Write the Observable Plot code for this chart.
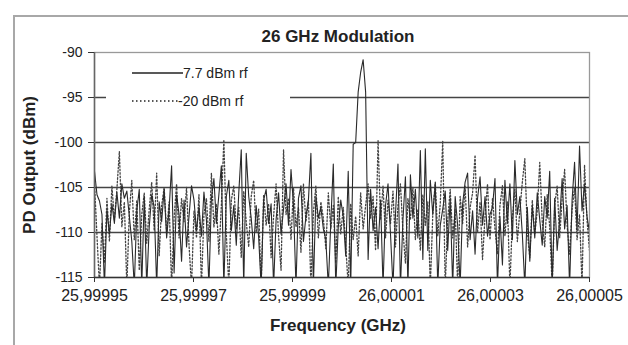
<!DOCTYPE html>
<html><head><meta charset="utf-8">
<script src="https://cdn.jsdelivr.net/npm/d3@7"></script>
<script src="https://cdn.jsdelivr.net/npm/@observablehq/plot@0.6"></script>
<style>
body{margin:0;background:#fff;font-family:"Liberation Sans",Arial,sans-serif;}
#wrap{position:relative;width:628px;height:345px;overflow:hidden;background:#fff;}
#border{position:absolute;left:13px;top:15px;width:700px;height:400px;border-left:2px solid #a8a8a8;border-top:2px solid #a8a8a8;}
#chart{position:absolute;left:0;top:0;}
.t{position:absolute;color:#222;font-weight:bold;font-size:17px;white-space:nowrap;}
#title{left:0;width:676px;top:27px;text-align:center;}
#xlabel{left:0;width:676px;top:316px;text-align:center;}
#ylabel{left:30px;top:165px;transform:translate(-50%,-50%) rotate(-90deg);}
#legend{position:absolute;left:106px;top:62px;width:184px;height:50px;background:#fff;}
.lg{position:absolute;left:26px;font-size:14px;color:#222;white-space:nowrap;display:flex;align-items:center;}
g[aria-label="x-axis tick label"] text{font-size:16px;}
</style></head>
<body><div id="wrap">
<div id="border"></div>
<div id="chart"></div>
<div id="title" class="t">26 GHz Modulation</div>
<div id="xlabel" class="t">Frequency (GHz)</div>
<div id="ylabel" class="t">PD Output (dBm)</div>
<div id="legend"></div>
</div>
<script>
// --- data ---
const seriesNames = ["7.7 dBm rf", "-20 dBm rf"];
const freqStart = 25.99995;   // GHz, sweep start
const freqStop = 26.00005;    // GHz, sweep stop
const xTicks = [25.99995, 25.99997, 25.99999, 26.00001, 26.00003, 26.00005];
const yTicks = [-115, -110, -105, -100, -95, -90];
const gridY = [-110, -105, -100, -95];

// PD output (dBm), 7.7 dBm rf; values below -115 are off-scale
const pd77 = [
 -103.2,-105.8,-106.5,-108.0,-116,-107.5,-110.2,-106.8,-109.0,-105.5,-108.4,-104.6,-106.2,-105.4,-108.2,-111.0,-116,-107.6,-105.2,-116,
 -106.0,-116,-109.4,-105.8,-107.2,-116,-106.6,-108.8,-105.2,-110.6,-107.4,-102.6,-114.5,-105.8,-108.0,-113.2,-106.4,-111.6,-108.2,-104.8,
 -106.4,-109.8,-107.2,-110.4,-105.5,-108.6,-116,-106.2,-104.0,-109.0,-105.8,-102.6,-116,-106.0,-104.2,-109.8,-107.0,-111.4,-105.6,-100.8,
 -116,-101.2,-106.0,-108.4,-111.8,-107.0,-110.6,-116,-106.4,-105.2,-109.0,-106.8,-116,-108.6,-105.6,-110.2,-107.4,-104.6,-109.2,-103.0,
 -107.0,-116,-106.2,-104.8,-111.0,-108.2,-106.4,-101.2,-116,-106.0,-108.4,-107.2,-109.6,-110.8,-116,-108.8,-102.4,-116,-109.4,-106.4,
 -108.2,-112.6,-103.2,-116,-100.2,-100.0,-94.4,-92.2,-90.8,-94.4,-113.0,-105.2,-109.8,-107.2,-111.8,-106.4,-116,-107.0,-104.6,-110.2,
 -116,-108.0,-102.4,-116,-108.6,-103.8,-116,-103.6,-108.4,-105.2,-110.6,-100.9,-113.0,-100.7,-112.0,-104.2,-108.0,-104.5,-116,-109.2,
 -107.4,-105.4,-112.0,-106.2,-116,-106.0,-109.2,-116,-106.8,-104.4,-103.4,-110.8,-107.6,-112.4,-106.2,-103.8,-109.2,-106.0,-110.4,-108.0,
 -107.2,-104.0,-116,-108.2,-113.6,-104.2,-109.0,-104.6,-110.8,-102.0,-108.0,-106.0,-110.2,-116,-107.2,-113.2,-107.0,-110.6,-105.6,-108.6,
 -111.4,-106.0,-108.4,-103.2,-116,-106.2,-112.0,-108.6,-104.0,-109.6,-107.0,-116,-106.4,-102.2,-109.8,-100.4,-107.6,-104.6,-108.2,-110.0
];
// PD output (dBm), -20 dBm rf
const pd20 = [
 -104.6,-110.4,-116,-109.0,-113.4,-106.2,-111.0,-104.8,-108.6,-105.2,-101.0,-109.4,-106.6,-116,-107.8,-104.2,-110.8,-106.4,-114.2,-108.0,
 -105.6,-111.2,-107.4,-104.4,-109.8,-103.4,-112.6,-107.0,-105.0,-110.0,-106.6,-116,-108.4,-104.6,-110.6,-106.2,-108.8,-105.0,-111.4,-116,
 -107.6,-110.6,-105.8,-116,-108.0,-106.2,-111.0,-103.4,-109.4,-106.8,-112.4,-107.0,-99.7,-110.2,-116,-106.4,-104.8,-109.6,-107.2,-112.8,
 -105.4,-108.8,-111.6,-106.0,-104.2,-110.0,-107.4,-116,-105.8,-109.2,-106.8,-112.8,-108.2,-104.6,-110.4,-114.2,-100.8,-108.0,-106.2,-110.8,
 -105.0,-109.4,-107.2,-112.2,-104.6,-108.8,-106.4,-116,-107.8,-104.8,-110.6,-106.6,-108.4,-111.8,-105.6,-109.6,-107.0,-113.4,-106.0,-110.2,
 -107.2,-111.4,-116,-106.8,-110.8,-108.2,-112.6,-105.6,-109.6,-107.0,-104.6,-108.4,-106.0,-112.0,-99.8,-108.6,-104.8,-110.6,-106.4,-109.0,
 -105.4,-111.6,-107.0,-104.6,-109.8,-113.4,-106.2,-108.6,-105.0,-110.8,-107.4,-112.0,-105.8,-109.2,-106.6,-116,-108.0,-104.4,-110.4,-106.8,
 -99.8,-116,-108.6,-105.2,-110.6,-107.4,-116,-106.0,-109.0,-104.8,-111.6,-107.2,-105.6,-101.4,-110.0,-106.6,-113.0,-108.2,-104.6,-110.8,
 -106.2,-109.6,-112.4,-107.0,-104.8,-110.4,-106.6,-116,-108.4,-105.2,-111.0,-107.6,-104.4,-101.8,-109.8,-112.8,-106.4,-110.2,-107.6,-102.2,
 -108.8,-111.6,-105.8,-109.4,-116,-107.0,-104.8,-110.6,-106.2,-103.0,-109.2,-112.4,-107.4,-105.0,-110.8,-108.0,-116,-102.5,-108.6,-112.0
];

// sweep grid: points equally spaced between start and stop
const toRows = (vals) => vals.map((v, i) => ({f: freqStart + (freqStop - freqStart) * i / (vals.length - 1), p: v}));
const rows77 = toRows(pd77);
const rows20 = toRows(pd20);

const fmtX = (d) => d3.format(".5f")(d).replace(".", ",");
const fmtY = (d) => String(d);

const plot = Plot.plot({
  width: 628, height: 345,
  marginLeft: 94, marginRight: 39, marginTop: 52, marginBottom: 68,
  style: {fontFamily: "'Liberation Sans', Arial, sans-serif", fontSize: "14px", color: "#222", background: "transparent", overflow: "visible"},
  x: {domain: [freqStart, freqStop], label: null},
  y: {domain: [-115, -90], label: null},
  marks: [
    Plot.ruleY(gridY, {stroke: "#444", strokeWidth: 1.3}),
    Plot.frame({stroke: "#999", strokeWidth: 1.3}),
    Plot.line(rows20, {x: "f", y: "p", stroke: "#444", strokeWidth: 1.3, strokeDasharray: "1.5,2", clip: true}),
    Plot.line(rows77, {x: "f", y: "p", stroke: "#2a2a2a", strokeWidth: 1.1, clip: true}),
    Plot.ruleX([freqStart], {stroke: "#666", strokeWidth: 1.5}),
    Plot.ruleY([-115], {stroke: "#333", strokeWidth: 1.5}),
    Plot.axisY({ticks: yTicks, tickSize: 6, tickPadding: 6, tickFormat: fmtY, label: null, stroke: "#333"}),
    Plot.axisX({ticks: xTicks, tickSize: 5, tickPadding: 7, tickFormat: fmtX, label: null, stroke: "#333"})
  ]
});
document.getElementById("chart").appendChild(plot);

// legend
const lg = document.getElementById("legend");
const styles = [{dash: null, w: 51}, {dash: "1.5,2.5", w: 46}];
seriesNames.forEach((name, i) => {
  const row = document.createElement("div");
  row.className = "lg";
  row.style.top = (i === 0 ? 3 : 31) + "px";
  const s = styles[i];
  row.innerHTML = `<svg width="${s.w}" height="14"><line x1="0" x2="${s.w}" y1="7" y2="7" stroke="#222" stroke-width="1.3" ${s.dash ? `stroke-dasharray="${s.dash}"` : ""}/></svg><span>${name}</span>`;
  lg.appendChild(row);
});
</script>
</body></html>
